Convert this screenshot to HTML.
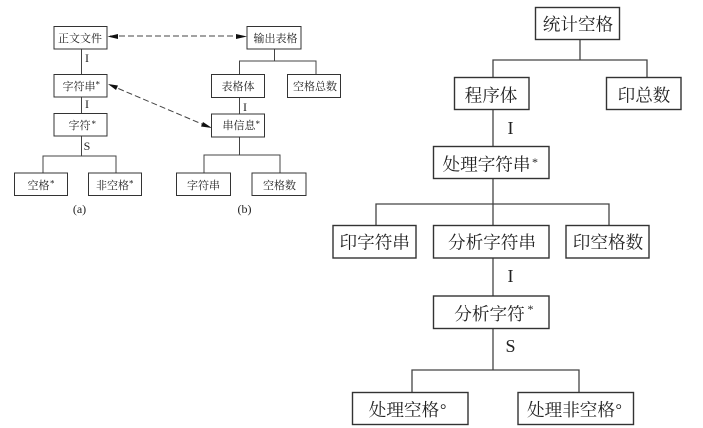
<!DOCTYPE html>
<html>
<head>
<meta charset="utf-8">
<style>
html,body{margin:0;padding:0;background:#fff;width:703px;height:428px;overflow:hidden}
svg{display:block;filter:blur(0.35px)}
text{font-family:"Liberation Serif","Noto Serif CJK SC",serif;fill:#222;text-anchor:middle}
.s{font-size:11px}
.l{font-size:17.600px}
.st{text-anchor:start}
rect{fill:#fff;stroke:#333}
.a rect{stroke-width:1}
.b rect{stroke-width:1.4}
path{fill:none;stroke:#444}
</style>
</head>
<body>
<svg width="703" height="428" viewBox="0 0 703 428" xmlns="http://www.w3.org/2000/svg">
<g stroke-width="1">
<path d="M81.500 49V74M81.500 97V113M81.500 136V156M43 173V156H116V173"/>
<path d="M274.500 49V61M239.500 74V61H316V74M239.500 97V114M239.500 137V155M204 173V155H280V173"/>
<path d="M110 36H244" stroke-dasharray="6 3"/>
<path d="M110 85L209 127" stroke-dasharray="6 3"/>
</g>
<polygon points="107.500,36.500 118,34 118,39" fill="#111"/>
<polygon points="247,36.500 236,34 236,39" fill="#111"/>
<polygon points="108,84 118,85.500 116,90" fill="#111"/>
<polygon points="212,128 201,126.500 203,122" fill="#111"/>
<g class="a">
<rect x="54" y="26.500" width="53" height="22.500"/>
<rect x="54" y="74.500" width="53" height="22.500"/>
<rect x="54" y="113.500" width="53" height="22.500"/>
<rect x="14.500" y="173" width="53" height="22.500"/>
<rect x="88.500" y="173" width="53" height="22.500"/>
<rect x="247" y="26.500" width="54" height="22.500"/>
<rect x="211.500" y="74.500" width="53" height="23"/>
<rect x="287.500" y="74.500" width="53" height="23"/>
<rect x="211.500" y="114" width="53" height="23"/>
<rect x="176.500" y="173" width="54" height="22.500"/>
<rect x="252" y="173" width="54" height="22.500"/>
</g>
<g class="s">
<text x="80" y="42">正文文件</text>
<text x="79" y="90">字符串</text><text class="st" x="95.500" y="87.500" font-size="9">*</text>
<text x="79.500" y="129">字符</text><text class="st" x="91.500" y="127" font-size="9">*</text>
<text x="38.500" y="189">空格</text><text class="st" x="50" y="186.500" font-size="9">*</text>
<text x="112.500" y="189">非空格</text><text class="st" x="129" y="186.500" font-size="9">*</text>
<text x="275.500" y="42">输出表格</text>
<text x="238" y="90">表格体</text>
<text x="315" y="90">空格总数</text>
<text x="239" y="129">串信息</text><text class="st" x="255.500" y="127" font-size="9">*</text>
<text x="203.500" y="189">字符串</text>
<text x="279.500" y="189">空格数</text>
<text x="87" y="62" font-size="12">I</text>
<text x="87" y="108" font-size="12">I</text>
<text x="87" y="150" font-size="12">S</text>
<text x="245" y="111" font-size="12">I</text>
<text x="79.500" y="213" font-size="12">(a)</text>
<text x="244.500" y="213" font-size="12">(b)</text>
</g>
<path stroke-width="1.300" d="M580 39V60M493 77V60H647V77M493 109V146M493 179V225M376 225V204H609V225M493 258V296M493 328V370M412 392V370H579V392"/>
<g class="b">
<rect x="535.500" y="7.500" width="84" height="32"/>
<rect x="454.500" y="77.500" width="74.500" height="32"/>
<rect x="606.500" y="77.500" width="74.500" height="32"/>
<rect x="433.500" y="146.500" width="115.500" height="32"/>
<rect x="333" y="225.500" width="83" height="32.500"/>
<rect x="433.500" y="225.500" width="115.500" height="32.500"/>
<rect x="566" y="225.500" width="83" height="32.500"/>
<rect x="433.500" y="296" width="115.500" height="32.500"/>
<rect x="352.500" y="392.500" width="115.500" height="32"/>
<rect x="518" y="392.500" width="115.500" height="32"/>
</g>
<g class="l">
<text x="578" y="30.500">统计空格</text>
<text x="491" y="101.500">程序体</text>
<text x="644" y="101.500">印总数</text>
<text x="486.500" y="170.500">处理字符串</text><text class="st" x="532" y="166" font-size="12">*</text>
<text x="374.700" y="248.500">印字符串</text>
<text x="492" y="248.500">分析字符串</text>
<text x="608" y="248.500">印空格数</text>
<text x="489.500" y="320">分析字符</text><text class="st" x="527.500" y="313" font-size="12">*</text>
<text x="404" y="416">处理空格</text><text class="st" x="440" y="415" font-size="16">°</text>
<text x="571" y="416">处理非空格</text><text class="st" x="615.500" y="415" font-size="16">°</text>
<text x="510.500" y="134" font-size="18">I</text>
<text x="510.500" y="282" font-size="18">I</text>
<text x="510.500" y="352" font-size="18">S</text>
</g>
</svg>
</body>
</html>
